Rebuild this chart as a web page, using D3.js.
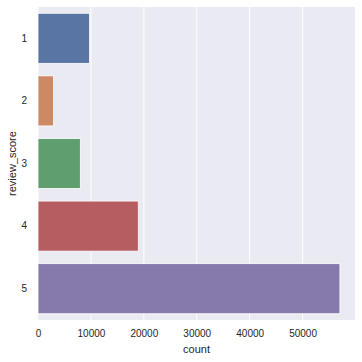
<!DOCTYPE html>
<html>
<head>
<meta charset="utf-8">
<script src="https://cdn.jsdelivr.net/npm/d3@7"></script>
<style>
  body { margin: 0; background: #fff; }
  svg { display: block; font-family: "Liberation Sans", Arial, sans-serif; }
</style>
</head>
<body>
<svg id="chart"></svg>
<script>
// contagem de avaliações por nota
const scores = ["1", "2", "3", "4", "5"];
const counts = [9750, 2950, 8000, 18950, 57050];
const colors = ["#5975a4", "#cc8963", "#5f9e6e", "#b55d60", "#857aab"];
const xTicks = [0, 10000, 20000, 30000, 40000, 50000];

const width = 362, height = 362;
const margin = { top: 7, right: 7, bottom: 42, left: 38 };

const svg = d3.select('#chart').attr('width', width).attr('height', height);

const x = d3.scaleLinear()
    .domain([0, d3.max(counts) * 1.05])
    .range([margin.left, width - margin.right]);

const y = d3.scaleBand()
    .domain(scores)
    .range([margin.top, height - margin.bottom])
    .paddingInner(0.2)
    .paddingOuter(0.1);

// fundo
svg.append('rect')
    .attr('x', margin.left)
    .attr('y', margin.top)
    .attr('width', width - margin.left - margin.right)
    .attr('height', height - margin.top - margin.bottom)
    .attr('fill', '#eaeaf2');

// grade vertical
svg.selectAll('line.grid')
    .data(xTicks)
    .enter()
    .append('line')
    .attr('class', 'grid')
    .attr('x1', d => x(d))
    .attr('x2', d => x(d))
    .attr('y1', margin.top)
    .attr('y2', height - margin.bottom)
    .attr('stroke', '#fff')
    .attr('stroke-width', 1);

// barras
svg.selectAll('rect.bar')
    .data(scores)
    .enter()
    .append('rect')
    .attr('class', 'bar')
    .attr('x', x(0))
    .attr('y', d => y(d))
    .attr('width', (d, i) => x(counts[i]) - x(0))
    .attr('height', y.bandwidth())
    .attr('fill', (d, i) => colors[i])
    .attr('stroke', '#fff')
    .attr('stroke-width', 0.8);

// eixo x
const xAxis = d3.axisBottom(x).tickValues(xTicks).tickSize(0).tickPadding(10).tickFormat(d3.format('d'));
const gx = svg.append('g')
    .attr('transform', `translate(0,${height - margin.bottom})`)
    .call(xAxis);
gx.select('.domain').remove();
gx.selectAll('text').attr('font-size', 10).attr('fill', '#262626').attr('font-family', '"Liberation Sans", Arial, sans-serif');

// eixo y
const yAxis = d3.axisLeft(y).tickSize(0).tickPadding(11);
const gy = svg.append('g')
    .attr('transform', `translate(${margin.left},0)`)
    .call(yAxis);
gy.select('.domain').remove();
gy.selectAll('text').attr('font-size', 10).attr('fill', '#262626').attr('font-family', '"Liberation Sans", Arial, sans-serif');

// rótulos
svg.append('text')
    .attr('x', (margin.left + width - margin.right) / 2)
    .attr('y', 353)
    .attr('text-anchor', 'middle')
    .attr('font-size', 11)
    .attr('fill', '#262626')
    .text('count');

svg.append('text')
    .attr('transform', `translate(16,${(margin.top + height - margin.bottom) / 2}) rotate(-90)`)
    .attr('text-anchor', 'middle')
    .attr('font-size', 11)
    .attr('fill', '#262626')
    .text('review_score');
</script>
</body>
</html>
